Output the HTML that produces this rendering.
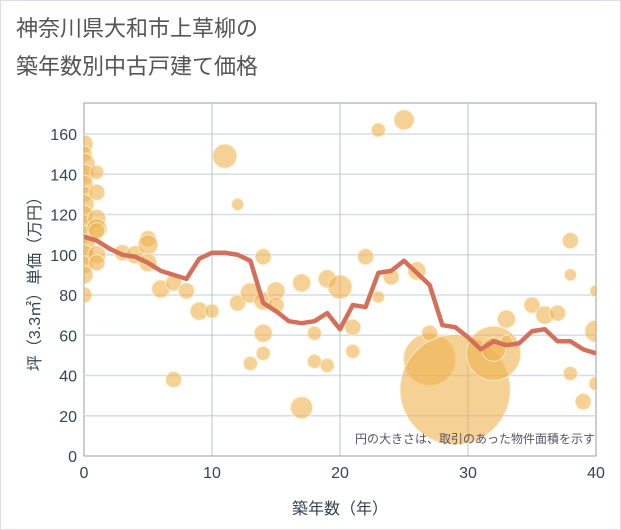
<!DOCTYPE html>
<html><head><meta charset="utf-8"><style>
body{margin:0;background:#fff;}
svg{display:block;font-family:"Liberation Sans","Noto Sans CJK JP",sans-serif;}
</style></head><body>
<svg id="c" width="621" height="530">
<defs><clipPath id="pc"><rect x="84" y="103" width="512" height="353"/></clipPath></defs>
<rect x="0.5" y="0.5" width="620" height="529" fill="#fff" stroke="#dde"/>
<text x="16" y="36" font-size="22" fill="#555">神奈川県大和市上草柳の</text>
<text x="16" y="74" font-size="22" fill="#555">築年数別中古戸建て価格</text>
<g id="grid"></g><g id="bub" clip-path="url(#pc)"></g><g id="ln" clip-path="url(#pc)"></g><g id="ax"></g>
<text x="595" y="443" font-size="12" fill="#556" text-anchor="end">円の大きさは、取引のあった物件面積を示す</text>
<text x="340" y="514" font-size="16" fill="#345" text-anchor="middle">築年数（年）</text>
<text transform="translate(40,280) rotate(-90)" font-size="16" fill="#345" text-anchor="middle">坪（3.3㎡）単価（万円）</text>
</svg>
<script>
const xTicks=[0,10,20,30,40];
const yTicks=[0,20,40,60,80,100,120,140,160];
const lineYears=[0,1,2,3,4,5,6,7,8,9,10,11,12,13,14,15,16,17,18,19,20,21,22,23,24,25,26,27,28,29,30,31,32,33,34,35,36,37,38,39,40];
const lineValues=[109,107,103,100,99,96,92,90,88,98,101,101,100,97,76,72,67,66,67,71,63,75,74,91,92,97,91,85,65,64,59,53,57,55,56,62,63,57,57,53,51];
const bubX=[0,0,0,0,0,0,0,0,0,0,0,0,0,0,0,1,1,1,1,1,1,1,3,4,5,5,5,6,7,7,8,9,10,11,12,12,13,13,14,14,14,14,15,15,17,17,18,18,19,19,20,21,21,22,23,23,24,25,26,27,27,29,32,32,33,33,35,36,37,38,38,38,39,40,40,40];
const bubY=[155,150,145,140,135,130,125,120,115,110,105,100,95,90,80,141,131,118,113,100,96,112,101,100,108,105,96,83,86,38,82,72,72,149,125,76,81,46,99,77,61,51,82,75,86,24,61,47,88,45,84,64,52,99,162,79,89,167,92,48,61,33,51,53,68,57,75,70,71,107,90,41,27,82,62,36];
const bubR=[9,8,11,10,9,8,10,9,10,9,11,10,9,9,8,7,8,9,10,9,8,8,8,9,8,10,9,9,8,8,8,9,7,12,6,8,10,7,8,9,9,7,9,8,9,11,7,7,9,7,12,8,7,8,7,6,8,10,9,26,8,55,27,12,9,6,8,9,8,8,6,7,8,6,11,7];
const L=84,R=596,T=103,B=456;
const sx=v=>L+(v-0)/(40)*(R-L);
const sy=v=>B-v/160*(456-134);
const NS="http://www.w3.org/2000/svg";
function mk(t,a,p){const e=document.createElementNS(NS,t);for(const k in a)e.setAttribute(k,a[k]);p.appendChild(e);return e;}
const g=document.getElementById('grid'),ax=document.getElementById('ax');
mk('rect',{x:L,y:T,width:R-L,height:B-T,fill:'#fff',stroke:'#99a','stroke-width':1},g);
yTicks.forEach(v=>{if(v>0){const l=mk('line',{x1:L,x2:R,y1:sy(v),y2:sy(v),stroke:'#d4dde8','stroke-width':1.5},g);

}
const t=mk('text',{x:L-7,y:sy(v)+6,'font-size':16,fill:'#345','text-anchor':'end'},ax);t.textContent=v;

});
xTicks.forEach(v=>{if(v>0&&v<40){const l=mk('line',{x1:sx(v),x2:sx(v),y1:T,y2:B,stroke:'#b8c4d4','stroke-width':1},g);

}
const t=mk('text',{x:sx(v),y:B+22,'font-size':16,fill:'#345','text-anchor':'middle'},ax);t.textContent=v;

});
mk('line',{x1:L,x2:R,y1:B,y2:B,stroke:'#99a'},ax);
const bg=document.getElementById('bub');
bubX.forEach((x,i)=>{const c=mk('circle',{cx:sx(x),cy:sy(bubY[i]),r:bubR[i],fill:'rgba(238,178,80,0.6)',stroke:'rgba(255,240,210,0.8)','stroke-width':1},bg);

});
const p=mk('polyline',{points:lineYears.map((x,i)=>sx(x)+','+sy(lineValues[i])).join(' '),fill:'none',stroke:'#d4705a','stroke-width':4.5,'stroke-linejoin':'round'},document.getElementById('ln'));


</script>
</body></html>
